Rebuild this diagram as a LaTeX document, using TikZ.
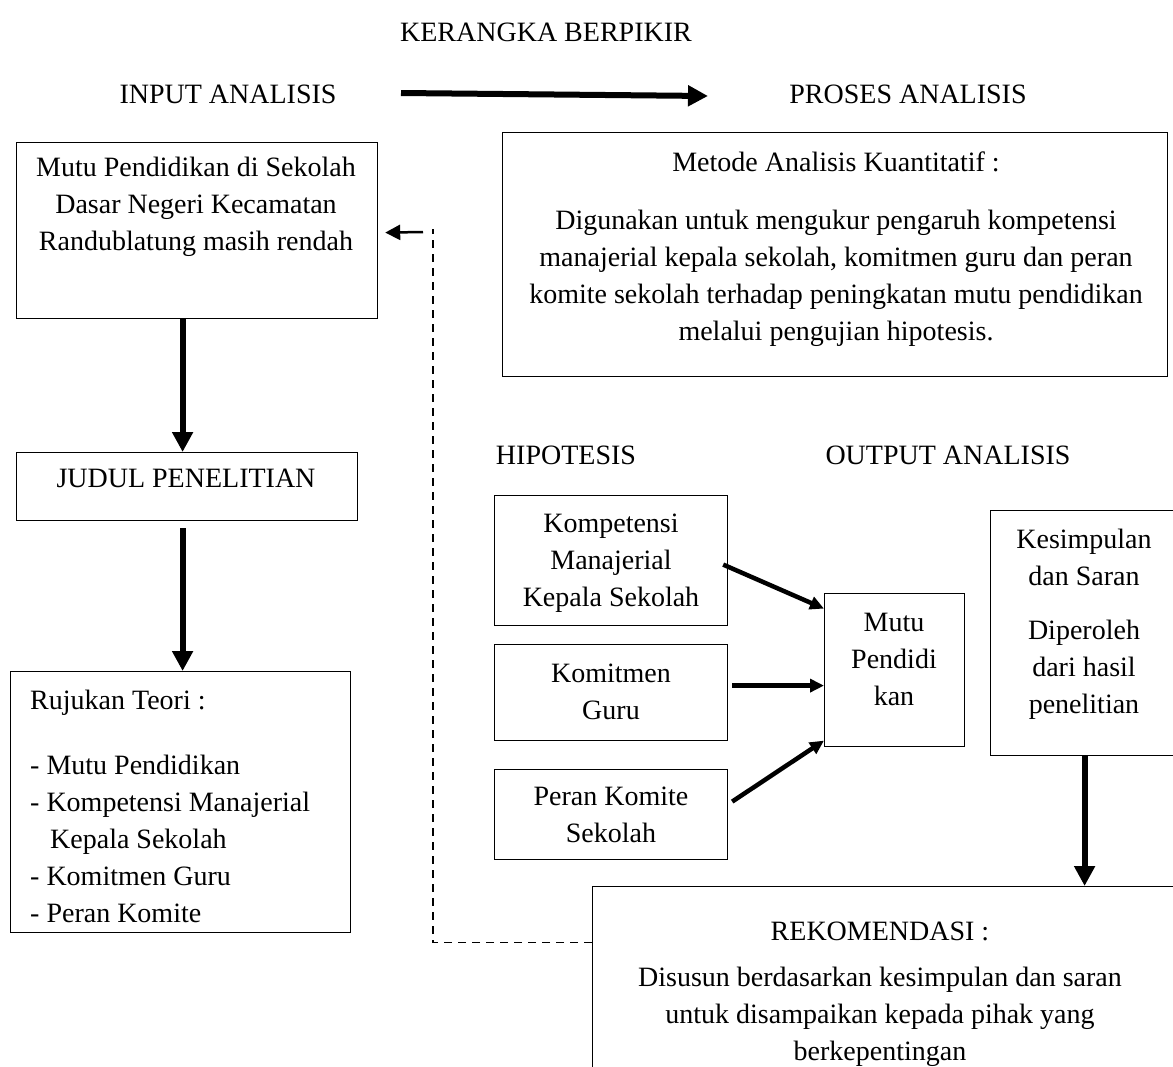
\documentclass[tikz,border=0pt]{standalone}
\usepackage{fontspec}
\setmainfont{Liberation Serif}
\usetikzlibrary{arrows.meta,calc}
\begin{document}
\begin{tikzpicture}[x=1pt,y=-1pt,
  box/.style={draw, line width=1.2pt, inner sep=0pt, anchor=north west},
  txt/.style={font=\fontsize{28}{37}\selectfont, inner sep=0pt, align=center},
  bigarrow/.style={line width=6pt, -{Triangle[length=20pt,width=20pt]}},
  midarrow/.style={line width=4.5pt, -{Triangle[length=14pt,width=13pt]}},
  thinarrow/.style={line width=2.5pt, -{Triangle[length=15pt,width=15pt]}},
  dashline/.style={line width=1.5pt, dash pattern=on 8pt off 6pt}]
\path[use as bounding box] (0,0) rectangle (1173,1066);
\clip (0,0) rectangle (1173,1066);

% boxes
\node[box, minimum width=361, minimum height=176] (b1) at (16,142) {};
\node[box, minimum width=341, minimum height=68] (judul) at (16,452) {};
\node[box, minimum width=340, minimum height=261] (ruj) at (10,671) {};
\node[box, minimum width=665, minimum height=244] (met) at (502,132) {};
\node[box, minimum width=233, minimum height=130] (komp) at (494,495) {};
\node[box, minimum width=233, minimum height=96] (komit) at (494,644) {};
\node[box, minimum width=233, minimum height=90] (peran) at (494,769) {};
\node[box, minimum width=140, minimum height=153] (mutu) at (824,593) {};
\node[box, minimum width=188, minimum height=245] (kes) at (990,510) {};
\node[box, minimum width=986, minimum height=220] (rek) at (592,886) {};

% texts
\node[txt] (title) at (546,32) {KERANGKA BERPIKIR};
\node[txt] (inp) at (228,94) {INPUT ANALISIS};
\node[txt] (pro) at (908,94) {PROSES ANALISIS};
\node[txt] (b1t) at (196,207) {Mutu Pendidikan di Sekolah\\Dasar Negeri Kecamatan\\Randublatung masih rendah};
\node[txt] (judult) at (186,478) {JUDUL PENELITIAN};
\node[txt, anchor=base west] (r0) at (30,709) {Rujukan Teori :};
\node[txt, anchor=base west] (r1) at (30,774) {- Mutu Pendidikan};
\node[txt, anchor=base west] (r2) at (30,811) {- Kompetensi Manajerial};
\node[txt, anchor=base west] (r3) at (50,848) {Kepala Sekolah};
\node[txt, anchor=base west] (r4) at (30,885) {- Komitmen Guru};
\node[txt, anchor=base west] (r5) at (30,922) {- Peran Komite};
\node[txt] (mett) at (836,162) {Metode Analisis Kuantitatif :};
\node[txt] (metb) at (836,278) {Digunakan untuk mengukur pengaruh kompetensi\\manajerial kepala sekolah, komitmen guru dan peran\\komite sekolah terhadap peningkatan mutu pendidikan\\melalui pengujian hipotesis.};
\node[txt] (hip) at (566,455) {HIPOTESIS};
\node[txt] (out) at (948,455) {OUTPUT ANALISIS};
\node[txt] (kompt) at (611,563) {Kompetensi\\Manajerial\\Kepala Sekolah};
\node[txt] (komitt) at (611,692) {Komitmen\\Guru};
\node[txt] (perant) at (611,815) {Peran Komite\\Sekolah};
\node[txt] (mutut) at (894,659) {Mutu\\Pendidi\\kan};
\node[txt] (kest) at (1084,557) {Kesimpulan\\dan Saran};
\node[txt] (kesb) at (1084,670) {Diperoleh\\dari hasil\\penelitian};
\node[txt] (rekt) at (880,931) {REKOMENDASI :};
\node[txt] (rekb) at (880,1017) {Disusun berdasarkan kesimpulan dan saran\\untuk disampaikan kepada pihak yang\\berkepentingan};

% connectors
\coordinate (ta) at (401,93);
\coordinate (tb) at (708,96);
\draw[bigarrow] (ta) -- (tb);
\draw[bigarrow] ([xshift=-14.5]b1.south) -- ([xshift=-4.5]judul.north);
\draw[bigarrow] ([xshift=-4.5,yshift=-7]judul.south) -- ([xshift=2]ruj.north);
\draw[midarrow] ([xshift=-5,yshift=-4]komp.east) -- ([yshift=61.5]mutu.west);
\draw[midarrow] ([xshift=4,yshift=7]komit.east) -- ([yshift=-15.5]mutu.west);
\draw[midarrow] ([xshift=4,yshift=13]peran.east) -- ([yshift=-70.5]mutu.west);
\draw[bigarrow] (kes.south) -- (kes.south |- rek.north);
\coordinate (dtop) at (433,229);
\draw[dashline] ([yshift=54]rek.west) -| (dtop);
\coordinate (fb) at (423,232);
\draw[thinarrow] (fb) -- ([xshift=7,yshift=-2]b1.east);
\end{tikzpicture}
\end{document}
